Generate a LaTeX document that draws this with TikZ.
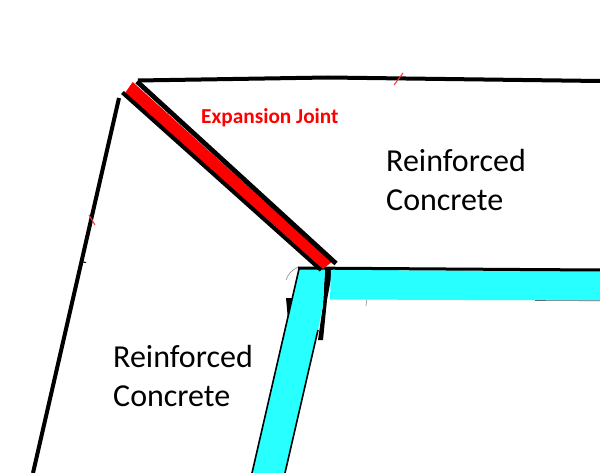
\documentclass[tikz,border=0pt]{standalone}
\usepackage{fontspec}
\setmainfont{Carlito}
\definecolor{jointred}{RGB}{255,0,0}
\definecolor{slabcyan}{RGB}{40,255,255}
\tikzset{
  edgeline/.style={draw=black,line width=4pt},
  tick/.style={draw=jointred!80!white,line width=1pt},
  speck/.style={draw=black!45,line width=0.6pt},
  bigtext/.style={font=\fontsize{32}{39}\selectfont,align=left,anchor=north west,inner sep=0pt,text=black},
  redtext/.style={font=\fontsize{21.3}{24}\selectfont\bfseries,anchor=west,inner sep=0pt,text=jointred}
}
\begin{document}
\begin{tikzpicture}[x=1pt,y=-1pt]
\useasboundingbox (0,0) rectangle (600,473);
\fill[white] (0,0) rectangle (600,473);
% outer lines
\draw[edgeline] (138,80.5) -- (328,77.5) -- (600,81);
\draw[edgeline] (119,98) -- (33,473);
% ticks and specks
\draw[tick] (403,73) -- (394,85);
\draw[tick] (89,215) -- (95,225);
\draw[black,line width=1pt] (83,262) -- (86,262.5);
\draw[speck] (286,280) .. controls (288,274) and (292,270) .. (298,267);
\draw[speck] (367,298) -- (366,306);
% black blobs behind the cyan wall
\fill[black] (286,298) -- (300,298) -- (294,330) -- (288,320) -- cycle;
\fill[black] (325,268) -- (333,268) -- (327,300) -- (323,340) -- (318,340) -- (323,305) -- cycle;
% cyan
\fill[slabcyan] (299,269) -- (325,269) -- (323,305) -- (318,330) -- (285,473) -- (252,473) -- cycle;
\fill[slabcyan] (331,270) -- (600,271) -- (600,300.5) -- (330,299.5) -- cycle;
\draw[black,line width=1.6pt] (299,269) -- (252,473);
\draw[black,line width=1.6pt] (318,330) -- (285,473);
\draw[black,line width=3pt] (298,268) -- (520,269.5) -- (600,270);
\draw[black!60,line width=0.6pt] (535,300.5) -- (600,300.8);
% joint
\fill[jointred] (132.7,82) -- (331.7,262) -- (323,269) -- (125,93) -- cycle;
\draw[black,line width=4.8pt] (137,81.5) -- (336,263.5);
\draw[black,line width=4pt] (122.4,92.5) -- (321,270);
% labels
\node[redtext] (joint) at (201,118) {Expansion Joint};
\node[bigtext] (rcupper) at (386,149) {Reinforced\\Concrete};
\node[bigtext] (rclower) at (113,345.5) {Reinforced\\Concrete};
\end{tikzpicture}
\end{document}
